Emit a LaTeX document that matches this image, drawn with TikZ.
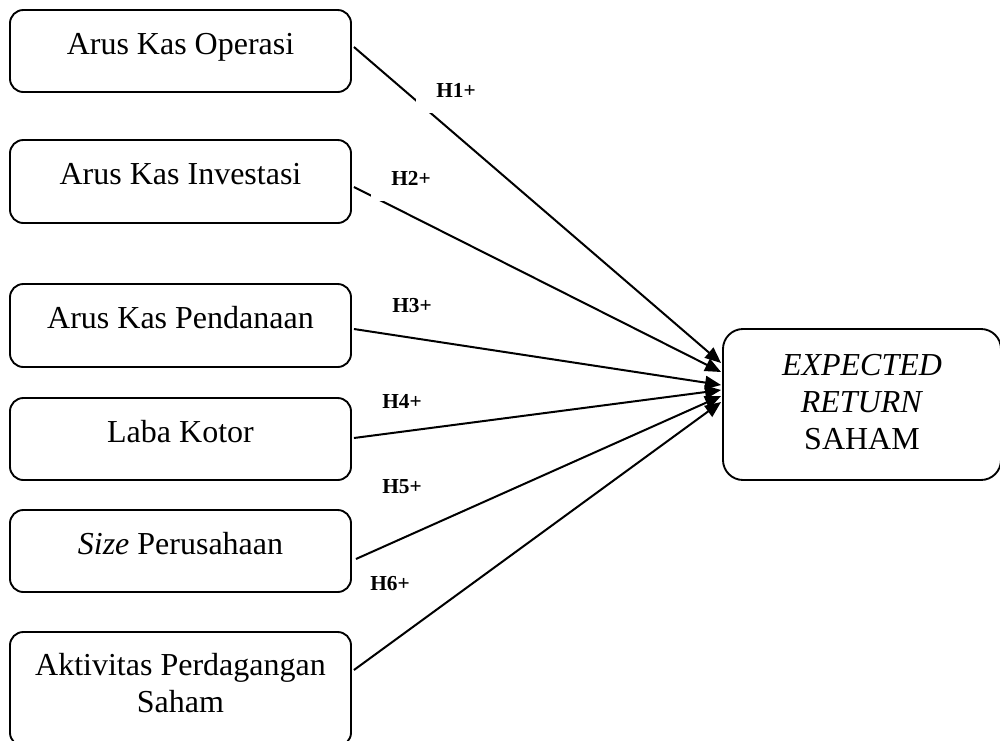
\documentclass[tikz,border=0pt]{standalone}
\usepackage{fontspec}
\setmainfont{Liberation Serif}
\usetikzlibrary{arrows.meta,calc}
\tikzset{
  boxbase/.style={draw, line width=1.4pt, inner sep=0pt, align=center,
    font=\fontsize{24}{27.6}\selectfont},
  varbox/.style={boxbase, rounded corners=10pt, minimum width=255.75pt,
    minimum height=61.5pt, text height=16.5pt, text depth=12pt},
  twobox/.style={boxbase, rounded corners=10pt, minimum width=255.75pt,
    minimum height=85.5pt, text depth=9.6pt},
  depbox/.style={boxbase, rounded corners=15pt, minimum width=208.5pt,
    minimum height=113.25pt, text depth=3.5pt},
  conn/.style={line width=1.5pt, -{Triangle[length=12pt,width=10pt]}},
  hyp/.style={fill=white, inner sep=0pt, text width=45pt, align=right,
    font=\fontsize{16}{18}\selectfont\bfseries, text height=11pt, text depth=12pt, anchor=base east}
}
\begin{document}
\begin{tikzpicture}[x=0.75pt,y=-0.75pt]
\useasboundingbox (0,0) rectangle (1000,740);
\node[varbox] (b1) at (180.5,51) {Arus Kas Operasi};
\node[varbox, minimum height=62.25pt] (b2) at (180.5,181.5) {Arus Kas Investasi};
\node[varbox, minimum height=62.25pt] (b3) at (180.5,325.5) {Arus Kas Pendanaan};
\node[varbox] (b4) at (180.5,439) {Laba Kotor};
\node[varbox] (b5) at (180.5,551) {\textit{Size} Perusahaan};
\node[twobox] (b6) at (180.5,689) {Aktivitas Perdagangan\\Saham};
\node[depbox] (er) at (862,404.5) {\textit{EXPECTED}\\\textit{RETURN}\\SAHAM};

\draw[conn] ($(b1.east)+(2,-4)$) -- ($(er.west)+(-1,-41.5)$);
\draw[conn] ($(b2.east)+(2,5.5)$) -- ($(er.west)+(-1,-32.5)$);
\draw[conn] ($(b3.east)+(2,3.5)$) -- ($(er.west)+(-1,-19.5)$);
\draw[conn] ($(b4.east)+(2,-1)$) -- ($(er.west)+(-1,-14.5)$);
\draw[conn] ($(b5.east)+(4,8)$) -- ($(er.west)+(-1,-8.5)$);
\draw[conn] ($(b6.east)+(2,-19)$) -- ($(er.west)+(-1,-2.5)$);

\node[hyp] (h1) at (476,97) {H1+};
\node[hyp] (h2) at (431,185) {H2+};
\node[hyp] (h3) at (432,312) {H3+};
\node[hyp] (h4) at (422,408) {H4+};
\node[hyp] (h5) at (422,493) {H5+};
\node[hyp, text width=36pt] (h6) at (410,590) {H6+};
\end{tikzpicture}
\end{document}
